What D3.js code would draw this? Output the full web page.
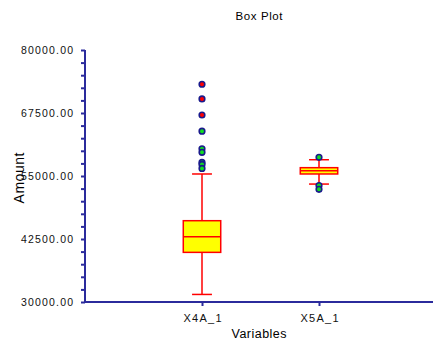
<!DOCTYPE html>
<html>
<head>
<meta charset="utf-8">
<script src="https://cdn.jsdelivr.net/npm/d3@7"></script>
<style>
  body { margin: 0; background: #fff; }
  text { font-family: "Liberation Sans", Arial, sans-serif; }
</style>
</head>
<body>
<svg id="chart" width="433" height="347"></svg>
<script>
// box plot data
var categories = ["X4A_1", "X5A_1"];
var whiskerLow = [31500, 53400];
var q1 = [39850, 55400];
var medians = [42950, 56050];
var q3 = [46130, 56650];
var whiskerHigh = [55400, 58230];
var outliers = [
    [73200, 70300, 67100, 63900, 60400, 59700, 57700, 57300, 56500],
    [58700, 53100, 52350]
];
var yTicks = [30000, 42500, 55000, 67500, 80000];

var svg = d3.select("#chart");
var plotLeft = 85, plotRight = 436, plotTop = 50, plotBottom = 302;
var axisColor = "#2b2b9c";

var xScale = d3.scaleLinear().domain([0, 3]).range([plotLeft, plotRight]);
var yScale = d3.scaleLinear().domain([30000, 80000]).range([plotBottom, plotTop]);

// title
svg.append("text")
    .attr("x", 259).attr("y", 20)
    .attr("text-anchor", "middle")
    .style("font-size", "11.5px")
    .attr("textLength", 47)
    .text("Box Plot");

// y axis, minor ticks every 2500
var yAxis = d3.axisLeft(yScale)
    .tickValues(d3.range(30000, 80001, 2500))
    .tickSize(4)
    .tickFormat(d => yTicks.indexOf(d) >= 0 ? d3.format(".2f")(d) : "");
var gy = svg.append("g")
    .attr("transform", "translate(" + plotLeft + ",0)")
    .call(yAxis);
gy.select(".domain").attr("stroke", axisColor).attr("stroke-width", 2).attr("d", "M0," + plotTop + "V" + plotBottom);
gy.selectAll(".tick line").attr("stroke", axisColor).attr("stroke-width", 2);
gy.selectAll(".tick text")
    .attr("x", -12)
    .style("font-size", "10.5px")
    .attr("fill", "#111")
    .attr("textLength", d => yTicks.indexOf(d) >= 0 ? 52 : null);

// x axis
var xAxis = d3.axisBottom(xScale)
    .tickValues([1, 2])
    .tickSize(4)
    .tickFormat((d, i) => categories[i]);
var gx = svg.append("g")
    .attr("transform", "translate(0," + plotBottom + ")")
    .call(xAxis);
gx.select(".domain").attr("stroke", axisColor).attr("stroke-width", 2).attr("d", "M" + plotLeft + ",0H433");
gx.selectAll(".tick line").attr("stroke", axisColor).attr("stroke-width", 2);
gx.selectAll(".tick text")
    .attr("y", 20).attr("dy", null)
    .style("font-size", "11px")
    .attr("fill", "#111")
    .attr("textLength", 38);

// axis titles
svg.append("text")
    .attr("x", 259).attr("y", 338)
    .attr("text-anchor", "middle")
    .style("font-size", "12.5px")
    .attr("textLength", 55)
    .text("Variables");
svg.append("text")
    .attr("transform", "translate(24,178) rotate(-90)")
    .attr("text-anchor", "middle")
    .style("font-size", "14px")
    .attr("textLength", 51)
    .text("Amount");

// boxes
categories.forEach(function (c, i) {
    var cx = xScale(i + 1);
    var half = xScale(0.16) - xScale(0);
    var cap = xScale(0.085) - xScale(0);
    var g = svg.append("g");

    g.append("line")
        .attr("x1", cx).attr("x2", cx)
        .attr("y1", yScale(whiskerLow[i])).attr("y2", yScale(whiskerHigh[i]))
        .attr("stroke", "red").attr("stroke-width", 1.5);
    [whiskerLow[i], whiskerHigh[i]].forEach(function (v) {
        g.append("line")
            .attr("x1", cx - cap).attr("x2", cx + cap)
            .attr("y1", yScale(v)).attr("y2", yScale(v))
            .attr("stroke", "red").attr("stroke-width", 1.5);
    });
    g.append("rect")
        .attr("x", cx - half).attr("width", 2 * half)
        .attr("y", yScale(q3[i])).attr("height", yScale(q1[i]) - yScale(q3[i]))
        .attr("fill", "#ffff00").attr("stroke", "red").attr("stroke-width", 1.5);
    g.append("line")
        .attr("x1", cx - half).attr("x2", cx + half)
        .attr("y1", yScale(medians[i])).attr("y2", yScale(medians[i]))
        .attr("stroke", "red").attr("stroke-width", 1.5);

    // outliers: red centre beyond 3 IQR, green otherwise
    var iqr = q3[i] - q1[i];
    outliers[i].forEach(function (v) {
        var far = v > q3[i] + 3 * iqr || v < q1[i] - 3 * iqr;
        g.append("circle")
            .attr("cx", cx).attr("cy", yScale(v)).attr("r", 2.8)
            .attr("fill", far ? "#ff0000" : "#11dd22")
            .attr("stroke", "#1a1a8c").attr("stroke-width", 1.6);
    });
});
</script>
</body>
</html>
